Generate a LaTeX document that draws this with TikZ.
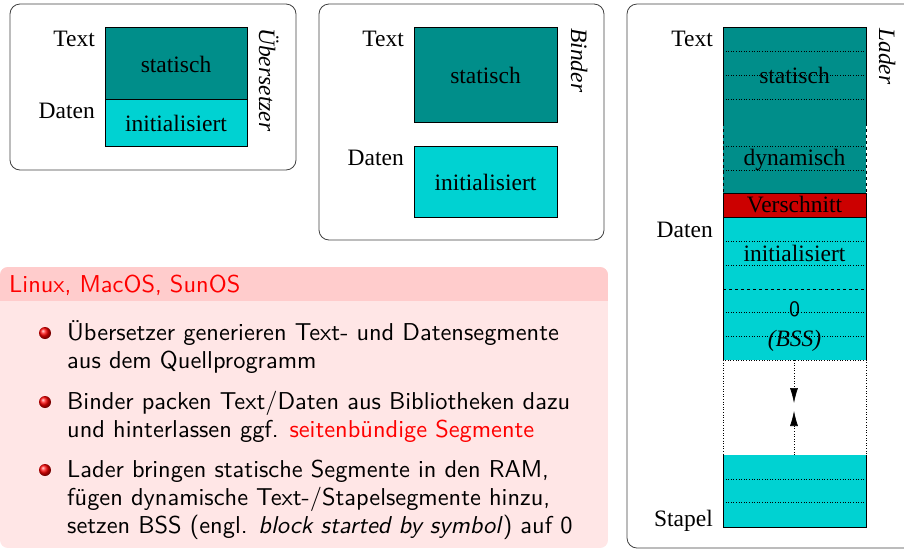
\documentclass[tikz,border=0pt]{standalone}
\usepackage{fontspec}
\setsansfont{lmsans10-regular.otf}[ItalicFont=lmsans10-oblique.otf, BoldFont=lmsans10-bold.otf]
\newfontfamily\diagfont{Liberation Serif}
\usetikzlibrary{arrows.meta}
\definecolor{tealdark}{HTML}{008E8A}
\definecolor{cyanlight}{HTML}{00D2D2}
\definecolor{cutred}{HTML}{CC0000}
\definecolor{titlebg}{RGB}{255,204,204}
\definecolor{bodybg}{RGB}{255,230,230}
\begin{document}
\begin{tikzpicture}[x=1pt,y=-1pt,
  lbl/.style={font=\diagfont\fontsize{23.5}{27}\selectfont, inner sep=0pt},
  rot/.style={lbl, font=\diagfont\itshape\fontsize{23.5}{27}\selectfont, rotate=-90, anchor=base west},
  frame/.style={draw=black!75, rounded corners=10pt, line width=0.8pt},
  seg/.style={draw=black, line width=0.6pt},
  gridline/.style={dotted, line width=0.6pt},
  txt/.style={font=\sffamily\fontsize{24.4}{28}\selectfont, inner sep=0pt, anchor=base west},
  bullet/.style={ball color=red}]
\useasboundingbox (0,0) rectangle (904,550);
\clip (0,0) rectangle (904,550);

% ---------- Uebersetzer ----------
\draw[frame] (10,4) rectangle (296,170);
\filldraw[seg, fill=tealdark] (105,27) rectangle (247,99);
\filldraw[seg, fill=cyanlight] (105,99) rectangle (247,146);
\node[lbl, anchor=base east] (u-text) at (95,46) {Text};
\node[lbl, anchor=base east] (u-daten) at (95,118) {Daten};
\node[lbl, anchor=base] (u-stat) at (176,72) {statisch};
\node[lbl, anchor=base] (u-init) at (176,131) {initialisiert};
\node[rot] (u-name) at (259,28) {Übersetzer};

% ---------- Binder ----------
\draw[frame] (319,4) rectangle (604,240);
\filldraw[seg, fill=tealdark] (414,27) rectangle (557,122);
\filldraw[seg, fill=cyanlight] (414,146) rectangle (557,217);
\node[lbl, anchor=base east] (b-text) at (404,46) {Text};
\node[lbl, anchor=base east] (b-daten) at (404,165) {Daten};
\node[lbl, anchor=base] (b-stat) at (485.5,83) {statisch};
\node[lbl, anchor=base] (b-init) at (485.5,190) {initialisiert};
\node[rot] (b-name) at (571,28) {Binder};

% ---------- Lader ----------
\draw[frame] (627,4) rectangle (930,548);
\fill[tealdark] (723,27) rectangle (866,193);
\draw[seg] (723,123) -- (723,27) -- (866,27) -- (866,123);
\draw[seg, dashed] (723,123) -- (723,193);
\draw[seg, dashed] (866,123) -- (866,193);
\filldraw[seg, fill=cutred] (723,193) rectangle (866,217);
\fill[cyanlight] (723,217) rectangle (866,360);
\draw[seg] (723,360) -- (723,217) -- (866,217) -- (866,360);
\draw[gridline] (723,360) rectangle (866,455);
\fill[cyanlight] (723,455) rectangle (866,527);
\draw[seg] (723,455) -- (723,527) -- (866,527) -- (866,455);
\foreach \yy in {51,75,99,146,170,241,265,312,336,479,502}
  \draw[gridline] (723,\yy) -- (866,\yy);
\draw[seg, dashed] (723,289) -- (866,289);
\node[lbl, anchor=base east] (l-text) at (713,46) {Text};
\node[lbl, anchor=base east] (l-daten) at (713,237) {Daten};
\node[lbl, anchor=base east] (l-stapel) at (713,526) {Stapel};
\node[lbl, anchor=base] (l-stat) at (794.5,83) {statisch};
\node[lbl, anchor=base] (l-dyn) at (794.5,165) {dynamisch};
\node[lbl, anchor=base] (l-cut) at (794.5,212) {Verschnitt};
\node[lbl, anchor=base] (l-init) at (794.5,261) {initialisiert};
\node[lbl, anchor=base, font=\sffamily\fontsize{22}{26}\selectfont] (l-zero) at (794.5,316) {0};
\node[lbl, anchor=base] (l-bss) at (794.5,346) {\textit{(BSS)}};
\node[rot] (l-name) at (879,28) {Lader};
\coordinate (gtop) at (794,360);
\coordinate (gbot) at (794,455);
\coordinate (tipdown) at (794,403);
\coordinate (tipup) at (794,411);
\draw[gridline, -{Latex[length=15pt,width=8pt]}] (gtop) -- (tipdown);
\draw[gridline, -{Latex[length=15pt,width=8pt]}] (gbot) -- (tipup);

% ---------- Block ----------
\begin{scope}
  \clip[rounded corners=8pt] (0,267) rectangle (608,548);
  \fill[bodybg] (0,267) rectangle (608,548);
  \fill[titlebg] (0,267) rectangle (608,301);
\end{scope}
\node[txt, text=red] (title) at (9,292) {Linux, MacOS, SunOS};
\shade[bullet] (45,333) circle (6);
\shade[bullet] (45,402) circle (6);
\shade[bullet] (45,470) circle (6);
\node[txt] (l1) at (67,340) {Übersetzer generieren Text- und Datensegmente};
\node[txt] (l2) at (67,368) {aus dem Quellprogramm};
\node[txt] (l3) at (67,409) {Binder packen Text/Daten aus Bibliotheken dazu};
\node[txt] (l4) at (67,437) {und hinterlassen ggf. \textcolor{red}{seitenbündige Segmente}};
\node[txt] (l5) at (67,477) {Lader bringen statische Segmente in den RAM,};
\node[txt] (l6) at (67,505) {fügen dynamische Text-/Stapelsegmente hinzu,};
\node[txt] (l7) at (67,533) {setzen BSS (engl. \textit{block started by symbol}) auf 0};
\end{tikzpicture}
\end{document}
